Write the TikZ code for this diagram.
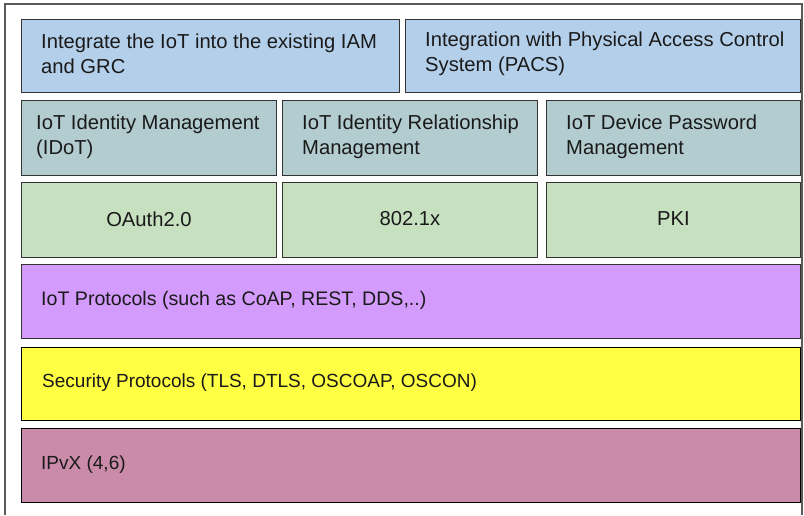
\documentclass[tikz,border=0pt]{standalone}
\usepackage{fontspec}
\setmainfont{Liberation Sans}
\definecolor{frameline}{HTML}{5A5A5A}
\definecolor{boxline}{HTML}{333333}
\definecolor{txtcol}{HTML}{1A1A1A}
\definecolor{blue1}{HTML}{B4CFEA}
\definecolor{teal1}{HTML}{B3CCD0}
\definecolor{green1}{HTML}{C7E0C0}
\definecolor{purple1}{HTML}{D39BFC}
\definecolor{yellow1}{HTML}{FFFF44}
\definecolor{pink1}{HTML}{CA8AAA}
\begin{document}
\begin{tikzpicture}[x=1pt,y=-1pt,
  layerbox/.style={draw=boxline, line width=0.9pt, inner sep=0pt, anchor=north west},
  txt/.style={text=txtcol, inner sep=0pt, align=left, anchor=west, font=\fontsize{20.2}{25.5}\selectfont},
  txtb/.style={txt, font=\fontsize{19}{25}\selectfont},
  txtc/.style={txt, font=\fontsize{19.6}{25}\selectfont}]
\useasboundingbox (0,0) rectangle (804,515);
\fill[white] (0,0) rectangle (804,515);
\coordinate (fbl) at (5,515);
\coordinate (ftl) at (5,4);
\coordinate (ftr) at (802,4);
\coordinate (fbr) at (802,515);
\draw[frameline, line width=1.4pt] (fbl) -- (ftl) -- (ftr) -- (fbr);
% row 1
\node[layerbox, fill=blue1, minimum width=378pt, minimum height=73pt] (a) at (21,19) {};
\node[layerbox, fill=blue1, minimum width=395pt, minimum height=73pt] (b) at (405,19) {};
% row 2
\node[layerbox, fill=teal1, minimum width=255pt, minimum height=75pt] (c) at (21,100) {};
\node[layerbox, fill=teal1, minimum width=255pt, minimum height=75pt] (d) at (282,100) {};
\node[layerbox, fill=teal1, minimum width=254pt, minimum height=75pt] (e) at (546,100) {};
% row 3
\node[layerbox, fill=green1, minimum width=255pt, minimum height=75pt] (f) at (21,182) {};
\node[layerbox, fill=green1, minimum width=255pt, minimum height=75pt] (g) at (282,182) {};
\node[layerbox, fill=green1, minimum width=254pt, minimum height=75pt] (h) at (546,182) {};
% rows 4-6
\node[layerbox, fill=purple1, minimum width=779pt, minimum height=74pt] (i) at (21,264) {};
\node[layerbox, fill=yellow1, minimum width=779pt, minimum height=73pt, draw=black] (j) at (21,347) {};
\node[layerbox, fill=pink1, minimum width=779pt, minimum height=74pt, draw=black] (k) at (21,428) {};
% texts
\node[txt] (ta) at ([xshift=20pt,yshift=2pt]a.west) {Integrate the IoT into the existing IAM\\and GRC};
\node[txt] (tb) at ([xshift=20pt,yshift=2pt]b.west) {Integration with Physical Access Control\\System (PACS)};
\node[txt] (tc) at ([xshift=15pt,yshift=1pt]c.west) {IoT Identity Management\\(IDoT)};
\node[txt] (td) at ([xshift=20pt,yshift=1pt]d.west) {IoT Identity Relationship\\Management};
\node[txt] (te) at ([xshift=20pt,yshift=1pt]e.west) {IoT Device Password\\Management};
\node[txt, anchor=center] (tf) at ([yshift=1pt]f.center) {OAuth2.0};
\node[txt, anchor=center] (tg) at ([yshift=1pt]g.center) {802.1x};
\node[txt, anchor=center] (th) at ([yshift=1pt]h.center) {PKI};
\node[txtc] (ti) at ([xshift=20pt,yshift=1pt]i.west) {IoT Protocols (such as CoAP, REST, DDS,..)};
\node[txtb] (tj) at ([xshift=21pt,yshift=1pt]j.west) {Security Protocols (TLS, DTLS, OSCOAP, OSCON)};
\node[txtb] (tk) at ([xshift=20pt,yshift=1pt]k.west) {IPvX (4,6)};
\end{tikzpicture}
\end{document}
